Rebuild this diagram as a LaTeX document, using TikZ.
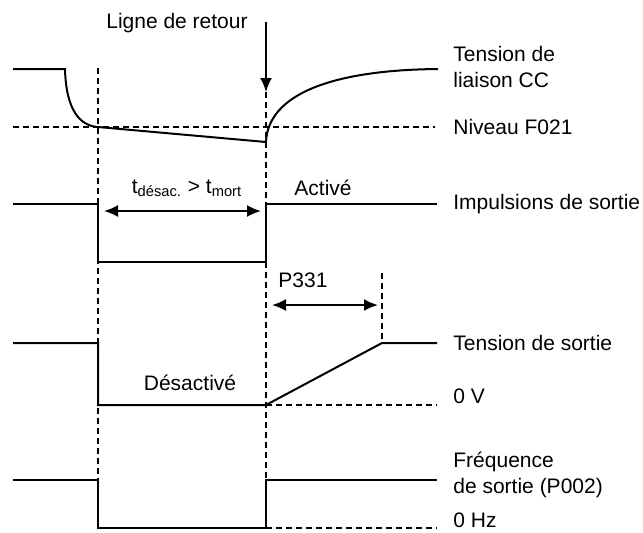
\documentclass[tikz,border=0pt]{standalone}
\usepackage{fontspec}
\setmainfont{Liberation Sans}
\usetikzlibrary{arrows.meta}
\begin{document}
\begin{tikzpicture}[x=0.5pt,y=-0.5pt,
  sig/.style={line width=1pt},
  guide/.style={line width=0.75pt,dash pattern=on 3pt off 2pt},
  dimarrow/.style={line width=1pt,{Latex[length=7pt,width=6pt]}-{Latex[length=7pt,width=6pt]}},
  lbl/.style={inner sep=0pt,align=left,font=\fontsize{10.5}{13}\selectfont}]
  \useasboundingbox (0,0) rectangle (643,532);
  % Time marks
  \coordinate (off) at (98,68);
  \coordinate (on) at (266,92);
  \coordinate (offbot) at (98,528);
  \coordinate (onbot) at (266,528);
  % Vertical guides
  \draw[guide] (off) -- (offbot);
  \draw[guide] (on) -- (onbot);
  % DC link voltage
  \draw[guide] (13,127) -- (435,127);
  \draw[sig] (13,69) -- (65,69) .. controls (66,110) and (80,126) .. (98,127)
    -- (266,142) .. controls (268,95) and (330,70) .. (438,69);
  % Return line arrow
  \node[lbl] (retour) at (177,23) {Ligne de retour};
  \coordinate (rtop) at (266,22);
  \draw[line width=1pt,-{Latex[length=7pt,width=6pt]}] (rtop) -- (on);
  % Output pulses
  \draw[sig] (13,204) -- (98,204) -- (98,262) -- (266,262) -- (266,204) -- (437,204);
  \coordinate (tA) at (104,211);
  \coordinate (tB) at (261,211);
  \draw[dimarrow] (tA) -- (tB);
  \node[lbl] (tdead) at (187,188) {t\textsubscript{désac.} > t\textsubscript{mort}};
  \node[lbl] (actif) at (323,188) {Activé};
  % Output voltage
  \draw[guide] (266,405) -- (437,405);
  \draw[sig] (13,343) -- (98,343) -- (98,405) -- (266,405) -- (382,343) -- (437,343);
  \draw[guide] (382,273) -- (382,343);
  \coordinate (pA) at (272,305);
  \coordinate (pB) at (378,305);
  \draw[dimarrow] (pA) -- (pB);
  \node[lbl] (p331) at (303,280) {P331};
  \node[lbl] (desactif) at (190,383) {Désactivé};
  % Output frequency
  \draw[guide] (266,528) -- (437,528);
  \draw[sig] (13,480) -- (98,480) -- (98,528) -- (266,528) -- (266,480) -- (437,480);
  % Labels on the right
  \node[lbl,anchor=west] (vdc) at (453,67) {Tension de\\liaison CC};
  \node[lbl,anchor=west] (niveau) at (453,127) {Niveau F021};
  \node[lbl,anchor=west] (impuls) at (453,204) {Impulsions de sortie};
  \node[lbl,anchor=west] (vout) at (453,343) {Tension de sortie};
  \node[lbl,anchor=west] (zerov) at (453,396) {0 V};
  \node[lbl,anchor=west] (fout) at (453,475) {Fréquence\\de sortie (P002)};
  \node[lbl,anchor=west] (zerohz) at (453,520) {0 Hz};
\end{tikzpicture}
\end{document}
